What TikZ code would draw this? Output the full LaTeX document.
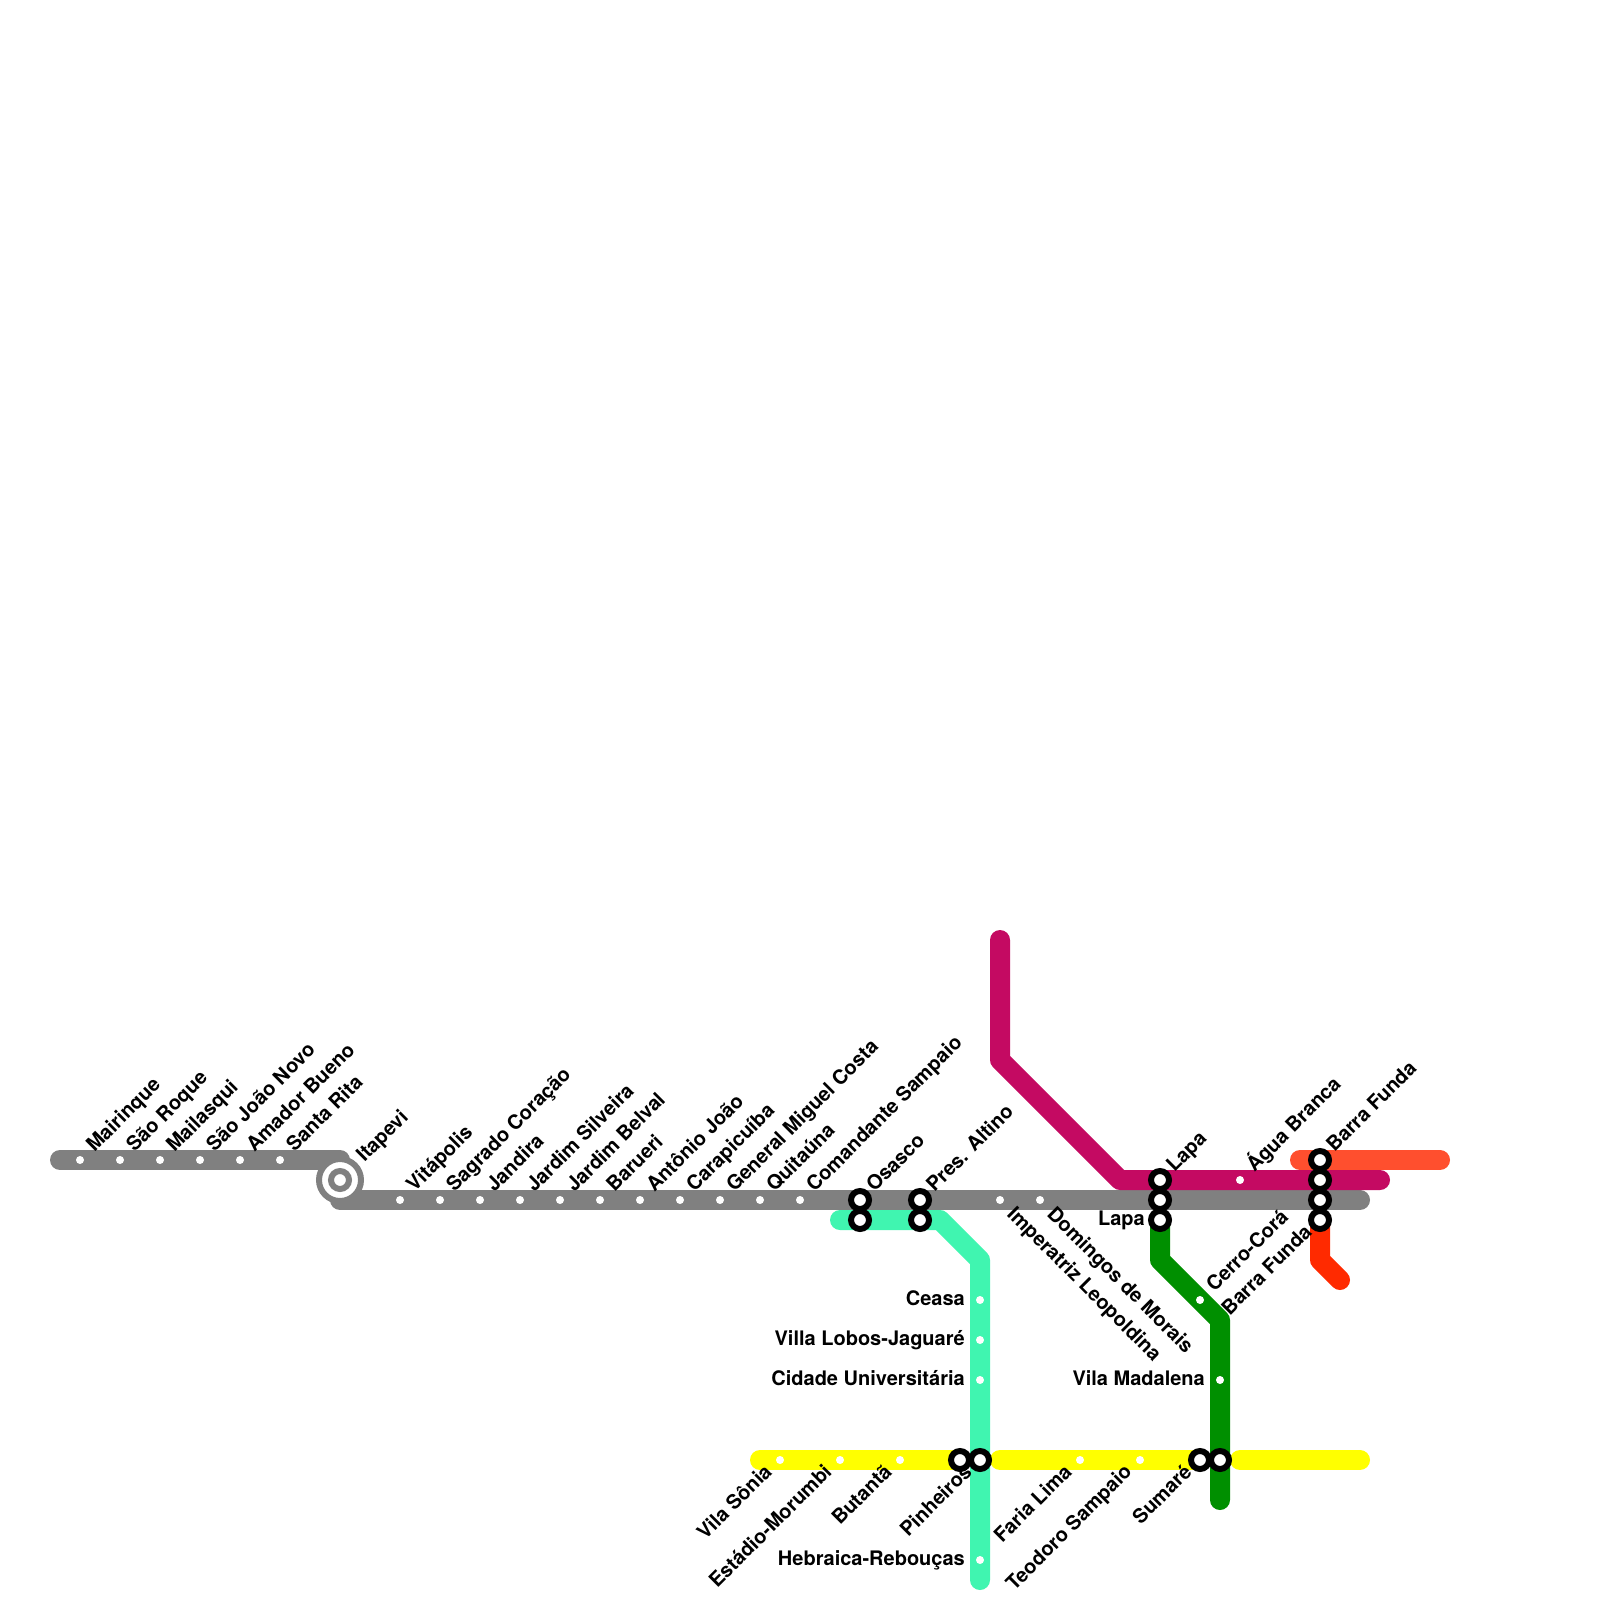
\documentclass[tikz,border=0pt]{standalone}
\usepackage{fontspec}
\setmainfont{TeX Gyre Heros}
\tikzset{
  line/.style={line width=20pt,line cap=round,line join=round},
  wdot/.style={circle,fill=white,draw=none,minimum size=8pt,inner sep=0pt},
  xfer/.style={circle,fill=white,draw=black,line width=6pt,minimum size=18pt,inner sep=0pt},
  hubouter/.style={circle,fill=white,draw=lgray,line width=6pt,minimum size=42pt,inner sep=0pt},
  hubinner/.style={circle,fill=white,draw=lgray,line width=6pt,minimum size=18pt,inner sep=0pt},
  txt/.style={font=\fontsize{20}{22}\selectfont\bfseries,text=black,inner sep=0pt},
  labne/.style={txt,rotate=45,anchor=base west},
  labsw/.style={txt,rotate=45,anchor=base east},
  labse/.style={txt,rotate=-45,anchor=base west},
  labw/.style={txt,anchor=base east},
}
\definecolor{lgray}{HTML}{808080}
\definecolor{lmag}{HTML}{C40A62}
\definecolor{lteal}{HTML}{40F5B0}
\definecolor{lyel}{HTML}{FFFF00}
\definecolor{lgreen}{HTML}{008F00}
\definecolor{lorange}{HTML}{FF4F2E}
\definecolor{lred}{HTML}{FF2A00}
\newcommand\DNE[5][wdot]{\node[#1] (#2) at (#3,#4) {}; \path (#2) ++(14.5,-7) node[labne] (#2l) {#5};}
\newcommand\DSW[5][wdot]{\node[#1] (#2) at (#3,#4) {}; \path (#2) ++(-7,13) node[labsw] (#2l) {#5};}
\newcommand\DSE[5][wdot]{\node[#1] (#2) at (#3,#4) {}; \path (#2) ++(6,15) node[labse] (#2l) {#5};}
\newcommand\DW[5][wdot]{\node[#1] (#2) at (#3,#4) {}; \path (#2) ++(-15,5) node[labw] (#2l) {#5};}
\begin{document}
\begin{tikzpicture}[x=1pt,y=-1pt]
\useasboundingbox[fill=white] (0,0) rectangle (1600,1600);
% line vertices
\coordinate (ga) at (60,1160); \coordinate (gb) at (340,1160);
\coordinate (gc) at (340,1200); \coordinate (gd) at (1360,1200);
\coordinate (ma) at (1000,940); \coordinate (mb) at (1000,1060);
\coordinate (mc) at (1120,1180); \coordinate (md) at (1380,1180);
\coordinate (oa) at (1300,1160); \coordinate (ob) at (1440,1160);
\coordinate (ra) at (1320,1220); \coordinate (rb) at (1320,1260); \coordinate (rc) at (1340,1280);
\coordinate (va) at (1160,1220); \coordinate (vb) at (1160,1260); \coordinate (vc) at (1220,1320); \coordinate (vd) at (1220,1500);
\coordinate (ta) at (840,1220); \coordinate (tb) at (940,1220); \coordinate (tc) at (980,1260); \coordinate (td) at (980,1580);
\coordinate (ya) at (760,1460); \coordinate (yb) at (960,1460);
\coordinate (yc) at (1000,1460); \coordinate (yd) at (1200,1460);
\coordinate (ye) at (1240,1460); \coordinate (yf) at (1360,1460);
% lines
\draw[line,lorange] (oa) -- (ob);
\draw[line,lred] (ra) -- (rb) -- (rc);
\draw[line,lyel] (ya) -- (yb);
\draw[line,lyel] (yc) -- (yd);
\draw[line,lyel] (ye) -- (yf);
\draw[line,lteal] (ta) -- (tb) -- (tc) -- (td);
\draw[line,lgreen] (va) -- (vb) -- (vc) -- (vd);
\draw[line,lgray] (ga) -- (gb);
\draw[line,lgray] (gc) -- (gd);
\draw[line,lmag] (ma) -- (mb) -- (mc) -- (md);
% gray line, upper
\DNE{s1}{80}{1160}{Mairinque}
\DNE{s2}{120}{1160}{São Roque}
\DNE{s3}{160}{1160}{Mailasqui}
\DNE{s4}{200}{1160}{São João Novo}
\DNE{s5}{240}{1160}{Amador Bueno}
\DNE{s6}{280}{1160}{Santa Rita}
% Itapevi
\node[hubouter] (hub) at (340,1180) {};
\node[hubinner] (hubc) at (hub) {};
\path (hub) ++(24.5,-17) node[labne] (hubl) {Itapevi};
% gray line, lower
\DNE{g1}{400}{1200}{Vitápolis}
\DNE{g2}{440}{1200}{Sagrado Coração}
\DNE{g3}{480}{1200}{Jandira}
\DNE{g4}{520}{1200}{Jardim Silveira}
\DNE{g5}{560}{1200}{Jardim Belval}
\DNE{g6}{600}{1200}{Barueri}
\DNE{g7}{640}{1200}{Antônio João}
\DNE{g8}{680}{1200}{Carapicuíba}
\DNE{g9}{720}{1200}{General Miguel Costa}
\DNE{g10}{760}{1200}{Quitaúna}
\DNE{g11}{800}{1200}{Comandante Sampaio}
\DNE[xfer]{g12}{860}{1200}{Osasco}
\DNE[xfer]{g13}{920}{1200}{Pres. Altino}
\DSE{g14}{1000}{1200}{Imperatriz Leopoldina}
\DSE{g15}{1040}{1200}{Domingos de Morais}
\node[xfer] (g16) at (1160,1200) {};
\node[xfer] (g17) at (1320,1200) {};
% magenta
\DNE[xfer]{m1}{1160}{1180}{Lapa}
\DNE{m2}{1240}{1180}{Água Branca}
\node[xfer] (m3) at (1320,1180) {};
% orange
\DNE[xfer]{o1}{1320}{1160}{Barra Funda}
% red
\DSW[xfer]{r1}{1320}{1220}{Barra Funda}
% green
\DW[xfer]{v1}{1160}{1220}{Lapa}
\DNE{v2}{1200}{1300}{Cerro-Corá}
\DW{v3}{1220}{1380}{Vila Madalena}
% teal
\node[xfer] (t1) at (860,1220) {};
\node[xfer] (t2) at (920,1220) {};
\DW{t3}{980}{1300}{Ceasa}
\DW{t4}{980}{1340}{Villa Lobos-Jaguaré}
\DW{t5}{980}{1380}{Cidade Universitária}
\DW{t7}{980}{1560}{Hebraica-Rebouças}
% yellow
\DSW{y1}{780}{1460}{Vila Sônia}
\DSW{y2}{840}{1460}{Estádio-Morumbi}
\DSW{y3}{900}{1460}{Butantã}
\node[xfer] (y4) at (960,1460) {};
\DSW[xfer]{y5}{980}{1460}{Pinheiros}
\DSW{y6}{1080}{1460}{Faria Lima}
\DSW{y7}{1140}{1460}{Teodoro Sampaio}
\DSW[xfer]{y8}{1200}{1460}{Sumaré}
\node[xfer] (y9) at (1220,1460) {};
\end{tikzpicture}
\end{document}
